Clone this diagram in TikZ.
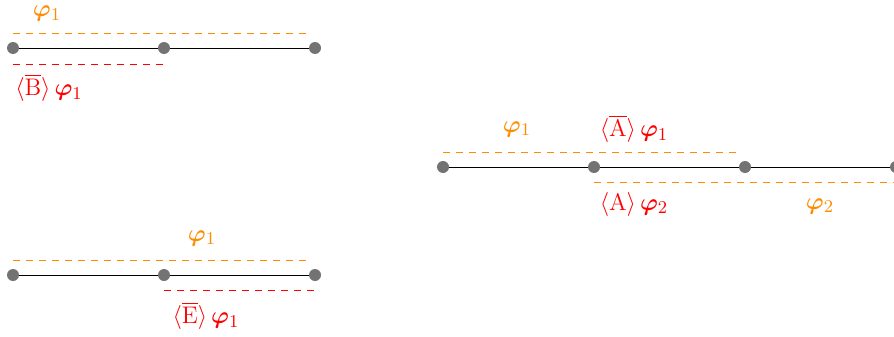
\documentclass[tikz,border=0pt]{standalone}
\usepackage{amsmath}
\usepackage{bm}
\usetikzlibrary{positioning}
\definecolor{naranja}{RGB}{255,140,0}
\newcommand{\fii}{\bm{\varphi}}
\tikzset{
	node distance=75.5pt, % Distancia entre los puntos
	punto/.style={circle, fill=black!55, inner sep=0pt, minimum size=6pt}, % Vertices
	arista/.style={draw=black, line width=0.5pt}, % Segmentos
	linea/.style={dashed, dash pattern=on 3.5pt off 3pt, line width=0.5pt}, % Rayas
	etiq/.style={font=\fontsize{12.5}{14}\selectfont, inner sep=0pt} % Textos
}

\begin{document}
\begin{tikzpicture}[x=0.5pt, y=-0.5pt]
	\useasboundingbox (0,0) rectangle (894,337);
	% arriba a la izquierda
	\node[punto] (b1) at (13,48) {};
	\node[punto, right of=b1] (b2) {};
	\node[punto, right of=b2] (b3) {};
	\draw[arista] (b1) -- (b2) -- (b3);
	\draw[linea, naranja] ([yshift=7.5pt]b1.center) -- ([yshift=7.5pt,xshift=-3pt]b3.center);
	\draw[linea, red] ([yshift=-8pt]b1.center) -- ([yshift=-8pt]b2.center);
	\node[etiq, text=naranja] (fb) at (47,14) {$\fii_1$};
	\node[etiq, text=red] (lb) at (49,88) {$\langle\overline{\mathrm{B}}\rangle\,\fii_1$};
	% a la derecha
	\node[punto] (a1) at (443,167) {};
	\node[punto, right of=a1] (a2) {};
	\node[punto, right of=a2] (a3) {};
	\node[punto, right of=a3] (a4) {};
	\draw[arista] (a1) -- (a2) -- (a3) -- (a4);
	\draw[linea, naranja] ([yshift=7.5pt]a1.center) -- ([yshift=7.5pt,xshift=-3pt]a3.center);
	\draw[linea, naranja] ([yshift=-7.5pt]a2.center) -- ([yshift=-7.5pt]a4.center);
	\node[etiq, text=naranja] (fa1) at (517,129) {$\fii_1$};
	\node[etiq, text=red] (la1) at (634,129) {$\langle\overline{\mathrm{A}}\rangle\,\fii_1$};
	\node[etiq, text=red] (la2) at (634,204) {$\langle\mathrm{A}\rangle\,\fii_2$};
	\node[etiq, text=naranja] (fa2) at (820,206) {$\fii_2$};
	% abajo a la izquierda
	\node[punto] (e1) at (13,275) {};
	\node[punto, right of=e1] (e2) {};
	\node[punto, right of=e2] (e3) {};
	\draw[arista] (e1) -- (e2) -- (e3);
	\draw[linea, naranja] ([yshift=7.5pt]e1.center) -- ([yshift=7.5pt,xshift=-3pt]e3.center);
	\draw[linea, red] ([yshift=-7.5pt]e2.center) -- ([yshift=-7.5pt]e3.center);
	\node[etiq, text=naranja] (fe) at (202,238) {$\fii_1$};
	\node[etiq, text=red] (le) at (206,316) {$\langle\overline{\mathrm{E}}\rangle\,\fii_1$};
\end{tikzpicture}
\end{document}
